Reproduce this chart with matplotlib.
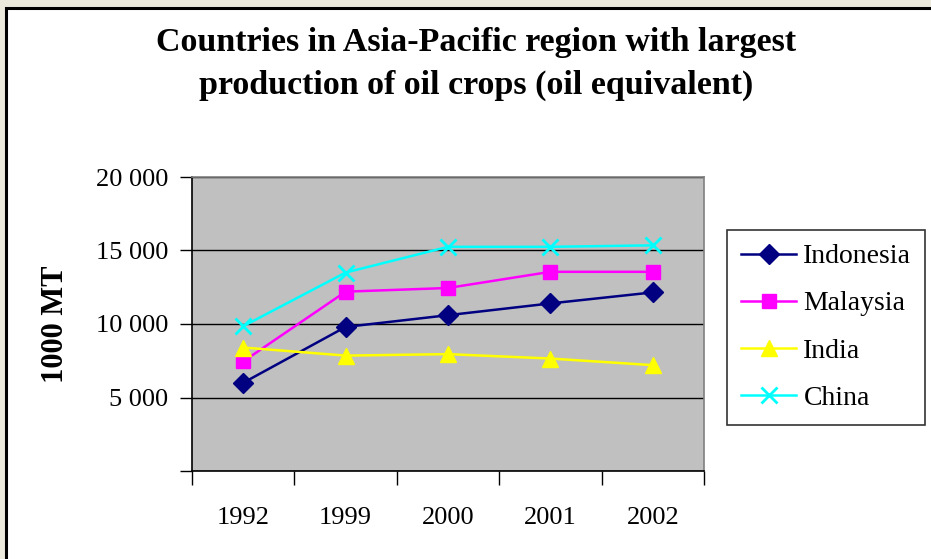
import matplotlib
matplotlib.use("Agg")
import matplotlib.pyplot as plt
from matplotlib.patches import Rectangle
from matplotlib.ticker import FixedLocator

plt.rcParams["font.family"] = ["Liberation Serif", "DejaVu Serif"]

years = ["1992", "1999", "2000", "2001", "2002"]
indonesia = [6000, 9800, 10600, 11400, 12150]
malaysia = [7450, 12200, 12450, 13550, 13550]
india = [8400, 7850, 7950, 7650, 7200]
china = [9850, 13500, 15250, 15250, 15350]
yticks = [0, 5000, 10000, 15000, 20000]
ytick_labels = ["", "5 000", "10 000", "15 000", "20 000"]

W, H = 931, 559
fig = plt.figure(figsize=(W / 100, H / 100), dpi=100)
fig.patch.set_facecolor("#ebe8dc")

# white chart area with black frame (runs off right/bottom)
fig.patches.append(Rectangle((6 / W, -0.05), 1.1, 1 - 8 / H + 0.05, transform=fig.transFigure,
                             fc="white", ec="black", lw=2.2, zorder=-5))

ax = fig.add_axes([192 / W, 1 - 471 / H, 512 / W, 294 / H])
ax.set_zorder(2)
ax.set_facecolor("#c0c0c0")

x = list(range(len(years)))
ax.plot(x, indonesia, color="#000080", lw=1.8, marker="D", ms=10, label="Indonesia", zorder=3)
ax.plot(x, malaysia, color="#ff00ff", lw=1.8, marker="s", ms=10, label="Malaysia", zorder=3)
ax.plot(x, india, color="#ffff00", lw=1.8, marker="^", ms=12, label="India", zorder=3)
ax.plot(x, china, color="#00ffff", lw=1.8, marker="x", ms=12, mew=2, label="China", zorder=3)

ax.set_xlim(-0.5, len(years) - 0.5)
ax.set_ylim(0, 20000)
ax.set_yticks(yticks)
ax.set_yticklabels(ytick_labels, fontsize=19)
ax.yaxis.grid(True, color="black", lw=1)
ax.set_axisbelow(True)

ax.xaxis.set_major_locator(FixedLocator(x))
ax.set_xticklabels(years, fontsize=19)
ax.xaxis.set_minor_locator(FixedLocator([i - 0.5 for i in range(len(years) + 1)]))
ax.tick_params(axis="x", which="major", length=0, pad=26)
ax.tick_params(axis="x", which="minor", length=10, width=1, direction="out")
ax.tick_params(axis="y", length=9, width=1, direction="out", pad=8)

for s in ("top", "right"):
    ax.spines[s].set_color("#808080")
for s in ("left", "bottom"):
    ax.spines[s].set_color("black")
for s in ax.spines.values():
    s.set_linewidth(1.2)

ax.set_ylabel("1000 MT", fontsize=22, weight="bold", labelpad=19)

fig.text(476 / W, 1 - 64 / H, "Countries in Asia-Pacific region with largest\nproduction of oil crops (oil equivalent)",
         ha="center", va="center", fontsize=24.5, weight="bold", linespacing=1.5)

leg = fig.legend(loc="upper left", bbox_to_anchor=(727 / W, 1 - 230 / H), frameon=True, fancybox=False,
                 edgecolor="black", fontsize=20, handlelength=2.0, handletextpad=0.25,
                 labelspacing=0.78, borderpad=0.5, borderaxespad=0)
leg.set_zorder(3)
leg.get_frame().set_linewidth(1.2)

fig.savefig("out.png", dpi=100)
